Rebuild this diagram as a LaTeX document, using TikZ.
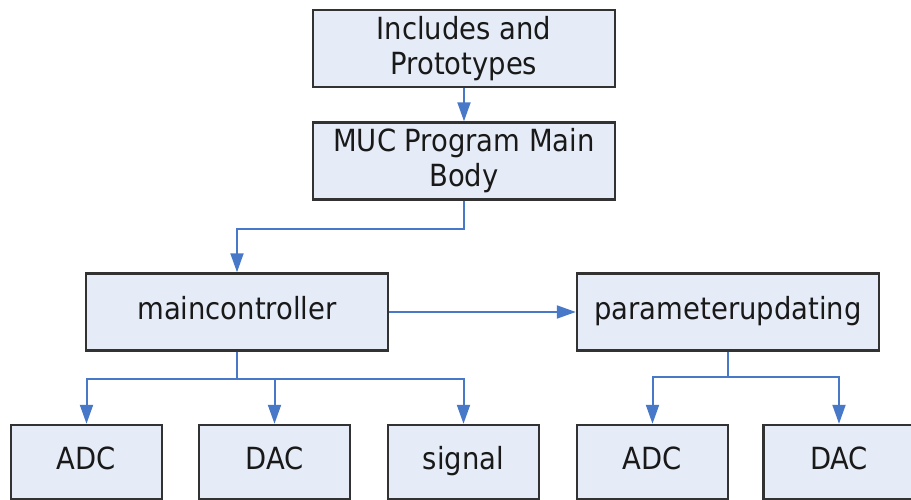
\documentclass[tikz,border=0pt]{standalone}
\usepackage{fontspec}
\setmainfont{DejaVu Sans Condensed}
\usetikzlibrary{arrows.meta}
\definecolor{boxfill}{RGB}{230,236,247}
\definecolor{boxline}{RGB}{50,50,50}
\definecolor{linkblue}{RGB}{72,121,200}
\tikzset{
    block/.style={draw=boxline, fill=boxfill, line width=2.4pt, align=center,
        inner sep=0pt, text=black!90, font=\fontsize{30.5}{35}\selectfont},
    oneline/.style={text height=22pt, text depth=7pt},
    bigblock/.style={block, minimum width=302pt, minimum height=77pt},
    smallblock/.style={block, oneline, minimum width=151pt, minimum height=74pt},
    link/.style={draw=linkblue, line width=2pt,
        -{Triangle[length=19pt,width=13pt]}}
}
\begin{document}
\begin{tikzpicture}[x=1pt,y=-1pt]
        \useasboundingbox (0,0) rectangle (911,500);
        %% Top of the program
        \node[bigblock] (incl) at (464,48.5) {Includes and\\Prototypes};
        \node[bigblock] (mainbody) at (464,161) {MUC Program Main\\Body};
        %% Controllers
        \node[bigblock, oneline] (mainctl) at (237,312) {maincontroller};
        \node[bigblock, oneline] (paramupd) at (728,312) {parameterupdating};
        %% Leaves
        \node[smallblock] (adcA) at (86.5,462) {ADC};
        \node[smallblock] (dacA) at (274.5,462) {DAC};
        \node[smallblock] (sig) at (463.5,462) {signal};
        \node[smallblock] (adcB) at (652.5,462) {ADC};
        \node[smallblock] (dacB) at (839,462) {DAC};
        %% Links
        \draw[link] (incl) -- (mainbody);
        \draw[link] (mainbody.south) -- ++(0,28) -| (mainctl.north);
        \draw[link] (mainctl) -- (paramupd);
        \foreach \leaf in {adcA,dacA,sig}{
            \draw[link] (mainctl.south) -- ++(0,27) -| (\leaf.north);
        }
        \foreach \leaf in {adcB,dacB}{
            \draw[link] (paramupd.south) -- ++(0,25) -| (\leaf.north);
        }
    \end{tikzpicture}
\end{document}
